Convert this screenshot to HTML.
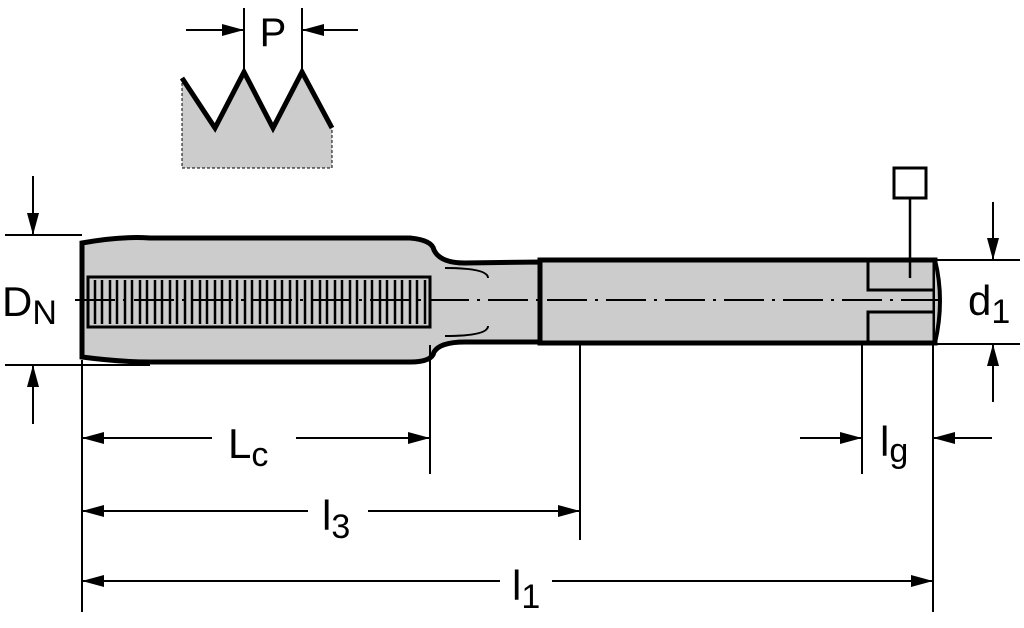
<!DOCTYPE html>
<html><head><style>body{margin:0;background:#fff}svg{display:block}</style></head><body>
<svg width="1024" height="628" viewBox="0 0 1024 628" xmlns="http://www.w3.org/2000/svg" font-family="Liberation Sans, sans-serif">
<defs>
<marker id="a" viewBox="0 0 22 12" refX="22" refY="6" markerWidth="22" markerHeight="12" markerUnits="userSpaceOnUse" orient="auto-start-reverse"><path d="M0,0 L22,6 L0,12 z" fill="#000"/></marker>
</defs>
<!-- thread profile -->
<path d="M182,168 L182,78 L215,128 L244,72 L273,128 L302,72 L332,128 L332,168 Z" fill="#ccc" stroke="none"/>
<path d="M182,78 L215,128 L244,72 L273,128 L302,72 L332,128" fill="none" stroke="#000" stroke-width="5"/>
<path d="M182,78 L182,168 L332,168 L332,128" fill="none" stroke="#000" stroke-width="1" stroke-dasharray="3,2"/>
<line x1="244" y1="8" x2="244" y2="72" stroke="#000" stroke-width="2"/>
<line x1="302" y1="8" x2="302" y2="72" stroke="#000" stroke-width="2"/>
<line x1="186" y1="30" x2="244" y2="30" stroke="#000" stroke-width="2" marker-end="url(#a)"/>
<line x1="358" y1="30" x2="302" y2="30" stroke="#000" stroke-width="2" marker-end="url(#a)"/>
<text x="273" y="46" font-size="40" text-anchor="middle">P</text>
<!-- body -->
<path d="M82,243 Q120,236 150,238 L410,238 Q432,240 434,250 Q440,263 465,263 L540,262 L540,342 L465,342 Q440,342 434,352 Q432,362 410,362 L150,362 Q120,362 82,357 Z" fill="#ccc" stroke="#000" stroke-width="5"/>
<rect x="540" y="260" width="395" height="83" fill="#ccc" stroke="#000" stroke-width="5"/>
<path d="M935,260 Q945,300 935,343" fill="#ccc" stroke="#000" stroke-width="4"/>
<!-- thread inner area -->
<rect x="88" y="277" width="342" height="50" fill="#ccc" stroke="#000" stroke-width="3"/>
<g stroke="#000" stroke-width="2.5">
<path d="M95,280V324M102,280V324M110,280V324M117,280V324M125,280V324M132,280V324M140,280V324M147,280V324M155,280V324M162,280V324M170,280V324M177,280V324M185,280V324M192,280V324M200,280V324M207,280V324M215,280V324M222,280V324M230,280V324M237,280V324M245,280V324M252,280V324M260,280V324M267,280V324M275,280V324M282,280V324M290,280V324M297,280V324M305,280V324M312,280V324M320,280V324M327,280V324M335,280V324M342,280V324M350,280V324M357,280V324M365,280V324M372,280V324M380,280V324M387,280V324M395,280V324M402,280V324M410,280V324M417,280V324M425,280V324"/>
</g>
<path d="M445,268 Q488,268 488,278 M445,336 Q488,336 488,326" fill="none" stroke="#000" stroke-width="2"/>
<!-- square slot end -->
<path d="M935,290 L868,290 L868,262 M935,312 L868,312 L868,341" fill="none" stroke="#000" stroke-width="3"/>
<!-- centerline -->
<line x1="75" y1="300" x2="945" y2="300" stroke="#000" stroke-width="2" stroke-dasharray="40,8,3,8"/>
<!-- square symbol -->
<rect x="894" y="168" width="32" height="30" fill="#fff" stroke="#000" stroke-width="3"/>
<line x1="910" y1="198" x2="910" y2="278" stroke="#000" stroke-width="2.5"/>
<!-- DN -->
<line x1="5" y1="235" x2="82" y2="235" stroke="#000" stroke-width="2"/>
<line x1="5" y1="365" x2="150" y2="365" stroke="#000" stroke-width="2"/>
<line x1="33" y1="176" x2="33" y2="235" stroke="#000" stroke-width="2" marker-end="url(#a)"/>
<line x1="33" y1="424" x2="33" y2="365" stroke="#000" stroke-width="2" marker-end="url(#a)"/>
<text x="2" y="316" font-size="42">D<tspan font-size="34" dy="8">N</tspan></text>
<!-- d1 -->
<line x1="935" y1="260" x2="1020" y2="260" stroke="#000" stroke-width="2"/>
<line x1="935" y1="344" x2="1020" y2="344" stroke="#000" stroke-width="2"/>
<line x1="993" y1="202" x2="993" y2="260" stroke="#000" stroke-width="2" marker-end="url(#a)"/>
<line x1="993" y1="402" x2="993" y2="344" stroke="#000" stroke-width="2" marker-end="url(#a)"/>
<text x="968" y="315" font-size="42">d<tspan font-size="34" dy="8">1</tspan></text>
<!-- extension lines -->
<g stroke="#000" stroke-width="2">
<line x1="82" y1="360" x2="82" y2="612"/>
<line x1="430" y1="345" x2="430" y2="474"/>
<line x1="580" y1="345" x2="580" y2="540"/>
<line x1="862" y1="345" x2="862" y2="474"/>
<line x1="933" y1="345" x2="933" y2="612"/>
</g>
<!-- Lc -->
<line x1="212" y1="438" x2="82" y2="438" stroke="#000" stroke-width="2" marker-end="url(#a)"/>
<line x1="296" y1="438" x2="430" y2="438" stroke="#000" stroke-width="2" marker-end="url(#a)"/>
<text x="228" y="458" font-size="42">L<tspan font-size="34" dy="8">c</tspan></text>
<!-- l3 -->
<line x1="308" y1="511" x2="82" y2="511" stroke="#000" stroke-width="2" marker-end="url(#a)"/>
<line x1="368" y1="511" x2="580" y2="511" stroke="#000" stroke-width="2" marker-end="url(#a)"/>
<text x="322" y="530" font-size="42">l<tspan font-size="34" dy="8">3</tspan></text>
<!-- l1 -->
<line x1="500" y1="581" x2="82" y2="581" stroke="#000" stroke-width="2" marker-end="url(#a)"/>
<line x1="552" y1="581" x2="933" y2="581" stroke="#000" stroke-width="2" marker-end="url(#a)"/>
<text x="512" y="600" font-size="42">l<tspan font-size="34" dy="8">1</tspan></text>
<!-- lg -->
<line x1="800" y1="438" x2="862" y2="438" stroke="#000" stroke-width="2" marker-end="url(#a)"/>
<line x1="992" y1="438" x2="933" y2="438" stroke="#000" stroke-width="2" marker-end="url(#a)"/>
<text x="880" y="456" font-size="42">l<tspan font-size="34" dy="6">g</tspan></text>
</svg>
</body></html>
